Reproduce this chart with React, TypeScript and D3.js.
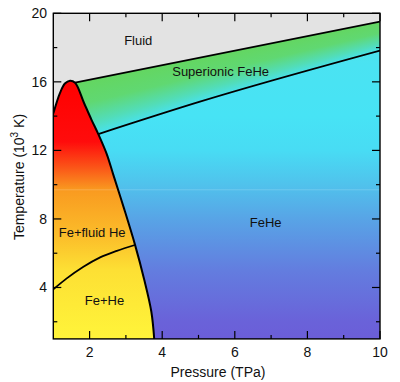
import React from "react";
import * as d3 from "d3";

// Phase boundaries (Pressure TPa, Temperature 10^3 K)
const meltingCurve: [number, number][] = [
  [1.0, 14.15], [1.18, 15.33], [1.32, 15.9], [1.46, 16.07], [1.6, 15.95],
  [1.85, 14.75], [2.05, 13.8], [2.24, 12.95], [2.47, 11.8], [2.65, 10.6],
  [2.95, 8.6], [3.25, 6.5], [3.5, 4.5], [3.7, 2.6], [3.78, 1.0],
];
const fluidBoundary: [number, number][] = [[1.6, 15.95], [10, 19.51]];
const superionicBoundary: [number, number][] = [[2.24, 12.95], [5.04, 14.84], [10, 17.82]];
const heliumBoundary: [number, number][] = [
  [1.0, 3.89], [1.37, 4.53], [1.83, 5.21], [2.29, 5.76], [2.75, 6.14], [3.25, 6.48],
];

const regionNames = ["Fluid", "Superionic FeHe", "FeHe", "Fe+fluid He", "Fe+He"];
const regionP = [3.34, 5.61, 6.85, 2.07, 2.41];
const regionT = [18.4, 16.59, 7.8, 7.22, 3.26];

const xMajor = [2, 4, 6, 8, 10];
const xMinor = [3, 5, 7, 9];
const yMajor = [4, 8, 12, 16, 20];
const yMinor = [2, 6, 10, 14, 18];

const W = 400, H = 382;
const L = 53.3, R = 380, T = 13.3, B = 338.9;
const FONT = "'Liberation Sans', Arial, Helvetica, sans-serif";

export default function App() {
  const x = d3.scaleLinear().domain([1, 10]).range([L, R]);
  const y = d3.scaleLinear().domain([1, 20]).range([B, T]);

  const smooth = d3.line<[number, number]>().x(d => x(d[0])).y(d => y(d[1])).curve(d3.curveMonotoneX);
  const catmull = d3.line<[number, number]>().x(d => x(d[0])).y(d => y(d[1])).curve(d3.curveCatmullRom.alpha(0.5));
  const straight = d3.line<[number, number]>().x(d => x(d[0])).y(d => y(d[1]));

  const meltPath = catmull(meltingCurve) as string;
  const fePath = meltPath + `L${x(1)},${y(1)}Z`;

  const feHePath =
    (straight(fluidBoundary) as string) +
    `L${x(10)},${y(1)}L${x(1.6)},${y(1)}Z`;

  const lowerExt: [number, number][] = [[1.5, 12.5], ...superionicBoundary];
  const siClip =
    (straight(fluidBoundary) as string) +
    `L${x(10)},${y(17.82)}` +
    (smooth([...superionicBoundary].reverse()) as string).replace(/^M/, "L") +
    `L${x(1.5)},${y(12.5)}Z`;

  const upperAt = (p: number) =>
    fluidBoundary[0][1] + ((p - fluidBoundary[0][0]) / (fluidBoundary[1][0] - fluidBoundary[0][0])) * (fluidBoundary[1][1] - fluidBoundary[0][1]);
  const lowerAt = (p: number) => {
    const pts = lowerExt;
    for (let i = 0; i < pts.length - 1; i++) {
      if (p <= pts[i + 1][0]) {
        const t = (p - pts[i][0]) / (pts[i + 1][0] - pts[i][0]);
        return pts[i][1] + t * (pts[i + 1][1] - pts[i][1]);
      }
    }
    return pts[pts.length - 1][1];
  };

  const strips: { px: number; top: number; bot: number }[] = [];
  for (let px = x(1.5); px < R; px += 2) {
    const p = x.invert(px + 1);
    strips.push({ px, top: y(upperAt(p)) - 1, bot: y(lowerAt(p)) + 1 });
  }

  const feHeStops: [number, string][] = [
    [19.6, "#52e2e2"], [17, "#4ae3f2"], [14, "#47e3f5"], [12, "#48dcf4"],
    [10, "#50c2ec"], [8, "#58a4e6"], [5, "#637ddf"], [2, "#6a62d9"], [1, "#6b5ed8"],
  ];
  const feStops: [number, string][] = [
    [16.1, "#ff0000"], [12.5, "#ff0c0c"], [11, "#fb5518"], [9.7, "#f99a20"],
    [7, "#fbbd2a"], [5, "#fde034"], [1, "#fff43a"],
  ];
  const stopOffset = (v: number, hi: number, lo: number) => (hi - v) / (hi - lo);

  return (
    <svg width={W} height={H} style={{ position: "absolute", left: 0, top: 0 }} fontFamily={FONT}>
      <defs>
        <clipPath id="plot">
          <rect x={L} y={T} width={R - L} height={B - T} />
        </clipPath>
        <clipPath id="si">
          <path d={siClip} />
        </clipPath>
        <linearGradient id="gFeHe" gradientUnits="userSpaceOnUse" x1={0} x2={0} y1={y(19.6)} y2={y(1)}>
          {feHeStops.map(([v, c], i) => (
            <stop key={i} offset={stopOffset(v, 19.6, 1)} stopColor={c} />
          ))}
        </linearGradient>
        <linearGradient id="gFe" gradientUnits="userSpaceOnUse" x1={0} x2={0} y1={y(16.1)} y2={y(1)}>
          {feStops.map(([v, c], i) => (
            <stop key={i} offset={stopOffset(v, 16.1, 1)} stopColor={c} />
          ))}
        </linearGradient>
        <linearGradient id="gSi" x1={0} x2={0} y1={0} y2={1}>
          <stop offset={0} stopColor="#64d660" />
          <stop offset={0.4} stopColor="#60d872" />
          <stop offset={0.75} stopColor="#52ddb8" />
          <stop offset={1} stopColor="#47e2f2" />
        </linearGradient>
      </defs>

      <g clipPath="url(#plot)">
        <rect x={L} y={T} width={R - L} height={B - T} fill="#e3e3e3" />
        <path d={feHePath} fill="url(#gFeHe)" />
        <g clipPath="url(#si)">
          {strips.map((s, i) => (
            <rect key={i} x={s.px} y={s.top} width={2.6} height={s.bot - s.top} fill="url(#gSi)" />
          ))}
        </g>
        <path d={fePath} fill="url(#gFe)" />
        <line x1={L} x2={R} y1={y(9.7)} y2={y(9.7)} stroke="#ffffff" strokeOpacity={0.18} strokeWidth={1} />

        <path d={straight(fluidBoundary) as string} fill="none" stroke="#000" strokeWidth={1.8} />
        <path d={smooth(superionicBoundary) as string} fill="none" stroke="#000" strokeWidth={1.8} />
        <path d={smooth(heliumBoundary) as string} fill="none" stroke="#000" strokeWidth={1.8} />
        <path d={meltPath} fill="none" stroke="#000" strokeWidth={2} strokeLinejoin="round" />
      </g>

      {regionNames.map((n, i) => (
        <text key={n} x={x(regionP[i])} y={y(regionT[i])} dy="0.35em" textAnchor="middle" fontSize={13} fill="#111">
          {n}
        </text>
      ))}

      <g stroke="#000" strokeWidth={1.2}>
        {xMajor.map(v => (
          <g key={"xM" + v}>
            <line x1={x(v)} x2={x(v)} y1={B} y2={B - 8} />
            <line x1={x(v)} x2={x(v)} y1={T} y2={T + 8} />
          </g>
        ))}
        {xMinor.map(v => (
          <g key={"xm" + v}>
            <line x1={x(v)} x2={x(v)} y1={B} y2={B - 4} />
            <line x1={x(v)} x2={x(v)} y1={T} y2={T + 4} />
          </g>
        ))}
        {yMajor.map(v => (
          <g key={"yM" + v}>
            <line x1={L} x2={L + 8} y1={y(v)} y2={y(v)} />
            <line x1={R} x2={R - 8} y1={y(v)} y2={y(v)} />
          </g>
        ))}
        {yMinor.map(v => (
          <g key={"ym" + v}>
            <line x1={L} x2={L + 4} y1={y(v)} y2={y(v)} />
            <line x1={R} x2={R - 4} y1={y(v)} y2={y(v)} />
          </g>
        ))}
      </g>
      <rect x={L} y={T} width={R - L} height={B - T} fill="none" stroke="#000" strokeWidth={1.4} />

      {xMajor.map(v => (
        <text key={"xl" + v} x={x(v)} y={356.5} textAnchor="middle" fontSize={14} fill="#111">
          {v}
        </text>
      ))}
      {yMajor.map(v => (
        <text key={"yl" + v} x={47} y={y(v)} dy="0.35em" textAnchor="end" fontSize={14} fill="#111">
          {v}
        </text>
      ))}

      <text x={218} y={377} textAnchor="middle" fontSize={14} fill="#111">
        Pressure (TPa)
      </text>
      <text transform="translate(24,177) rotate(-90)" textAnchor="middle" fontSize={14} fill="#111">
        Temperature (10
        <tspan fontSize={10} dy={-6}>3</tspan>
        <tspan dy={6}> K)</tspan>
      </text>
    </svg>
  );
}
